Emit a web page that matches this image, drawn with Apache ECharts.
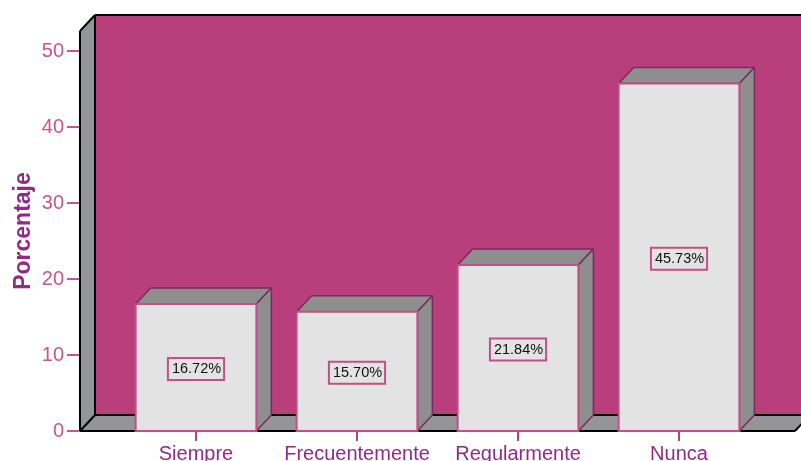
<!DOCTYPE html>
<html>
<head>
<meta charset="utf-8">
<style>
  html, body { margin: 0; padding: 0; background: #ffffff; overflow: hidden; }
  #chart { width: 801px; height: 461px; }
</style>
<script src="https://cdn.jsdelivr.net/npm/echarts@6/dist/echarts.min.js"></script>
</head>
<body>
<div id="chart"></div>
<script>
const categories = ['Siempre', 'Frecuentemente', 'Regularmente', 'Nunca']
const values = [16.72, 15.70, 21.84, 45.73]
const yTicks = [0, 10, 20, 30, 40, 50]

const DEPTH_X = 15
const DEPTH_Y = 16
const SIDE_MARGIN = 35.5

const chart = echarts.init(document.getElementById('chart'))

const poly = (points, fill, stroke, lineWidth) => ({
  type: 'polygon',
  shape: { points },
  style: { fill, stroke, lineWidth, lineJoin: 'round' }
})

const seg = (x1, y1, x2, y2) => ({
  type: 'line',
  shape: { x1, y1, x2, y2 },
  style: { stroke: '#000000', lineWidth: 2 }
})

// the box the bars stand in: back wall, left wall, floor
const renderWalls = (params) => {
  const c = params.coordSys
  const l = c.x - SIDE_MARGIN
  const r = c.x + c.width + SIDE_MARGIN
  const t = c.y
  const b = c.y + c.height
  return {
    type: 'group',
    children: [
      poly([[l + DEPTH_X, t - DEPTH_Y], [r + DEPTH_X, t - DEPTH_Y], [r + DEPTH_X, b - DEPTH_Y], [l + DEPTH_X, b - DEPTH_Y]], '#b93e7c'),
      poly([[l, t], [l + DEPTH_X, t - DEPTH_Y], [l + DEPTH_X, b - DEPTH_Y], [l, b]], '#939598'),
      poly([[l, b], [l + DEPTH_X, b - DEPTH_Y], [r + DEPTH_X, b - DEPTH_Y], [r, b]], '#939598'),
      seg(l + DEPTH_X, t - DEPTH_Y, r + DEPTH_X, t - DEPTH_Y),
      seg(l + DEPTH_X, t - DEPTH_Y, l + DEPTH_X, b - DEPTH_Y),
      seg(l + DEPTH_X, b - DEPTH_Y, r + DEPTH_X, b - DEPTH_Y),
      seg(l, t, l + DEPTH_X, t - DEPTH_Y),
      seg(l, t, l, b),
      seg(l, b, l + DEPTH_X, b - DEPTH_Y),
      seg(l, b, r, b),
      seg(r, b, r + DEPTH_X, b - DEPTH_Y)
    ]
  }
}

const renderBar = (params, api) => {
  const value = api.value(1)
  const top = api.coord([api.value(0), value])
  const base = api.coord([api.value(0), 0])
  const w = api.size([1, 0])[0] * 0.75
  const l = top[0] - w / 2
  const r = top[0] + w / 2
  const t = top[1]
  const b = base[1]
  const shade = '#7b2a5c'
  return {
    type: 'group',
    children: [
      poly([[l, t], [l + DEPTH_X, t - DEPTH_Y], [r + DEPTH_X, t - DEPTH_Y], [r, t]], '#8e8e8e', shade, 1.5),
      poly([[r, t], [r + DEPTH_X, t - DEPTH_Y], [r + DEPTH_X, b - DEPTH_Y], [r, b]], '#8e8e8e', shade, 1.5),
      {
        type: 'rect',
        shape: { x: l, y: t, width: w, height: b - t },
        style: { fill: '#e3e3e3', stroke: '#c04f8a', lineWidth: 2 }
      },
      {
        type: 'text',
        style: {
          x: top[0],
          y: (t + b) / 2 + 1.5,
          text: value.toFixed(2) + '%',
          align: 'center',
          verticalAlign: 'middle',
          fill: '#111111',
          font: '14.5px "Liberation Sans"',
          backgroundColor: '#e3e3e3',
          borderColor: '#c04f8a',
          borderWidth: 2,
          padding: [3, 2, 2, 3]
        }
      }
    ]
  }
}

chart.setOption({
  animation: false,
  backgroundColor: '#ffffff',
  grid: { left: 115.5, width: 644, top: 31, height: 400, outerBoundsMode: 'none' },
  xAxis: {
    type: 'category',
    data: categories,
    axisLine: { show: false },
    axisTick: { show: true, alignWithLabel: true, length: 10, lineStyle: { color: '#b93e7c', width: 2 } },
    axisLabel: { color: '#8e2c85', fontFamily: 'Liberation Sans', fontSize: 20, margin: 13, interval: 0 }
  },
  yAxis: {
    type: 'value',
    min: 0,
    max: 52.63,
    interval: 10,
    offset: 35.5,
    name: 'Porcentaje',
    nameLocation: 'middle',
    nameGap: 45,
    nameMoveOverlap: false,
    nameTextStyle: { color: '#8e2c85', fontFamily: 'Liberation Sans', fontWeight: 'bold', fontSize: 23 },
    splitLine: { show: false },
    axisLine: { show: false },
    axisTick: { show: true, length: 13, customValues: yTicks, lineStyle: { color: '#c9558e', width: 2 } },
    axisLabel: { color: '#c9558e', fontFamily: 'Liberation Sans', fontSize: 20, margin: 16, padding: [4, 0, 0, 0], customValues: yTicks }
  },
  series: [
    { type: 'custom', data: [[0, 0]], renderItem: renderWalls, silent: true, clip: false, z: 1 },
    { type: 'custom', data: categories.map((c, i) => [i, values[i]]), renderItem: renderBar, clip: false, z: 2 }
  ]
})
</script>
</body>
</html>
